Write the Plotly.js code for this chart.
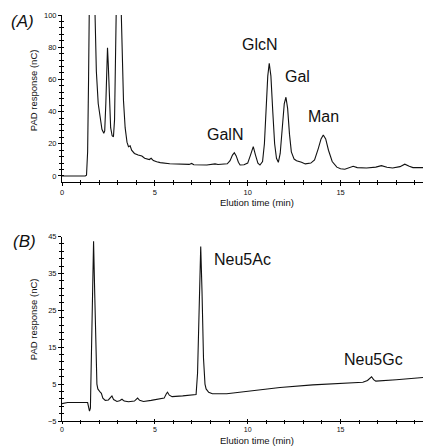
<!DOCTYPE html>
<html>
<head>
<meta charset="utf-8">
<script src="https://cdn.plot.ly/plotly-3.0.1.min.js"></script>
<style>
  html, body { margin: 0; padding: 0; background: #fff; }
  #chart { width: 423px; height: 447px; }
</style>
</head>
<body>
<div id="chart"></div>
<script>
// ---- Panel A: monosaccharide chromatogram ----
const timeA = [0, 1.25, 1.32, 1.38, 1.43, 1.47, 1.50, 1.60, 1.70, 1.78, 1.85, 1.95, 2.05, 2.15, 2.25, 2.30, 2.36, 2.42, 2.45, 2.49, 2.55, 2.62, 2.70, 2.77, 2.83, 2.90, 2.95, 3.05, 3.15, 3.20, 3.26, 3.31, 3.40, 3.50, 3.58, 3.67, 3.75, 3.90, 4.10, 4.30, 4.45, 4.57, 4.70, 4.80, 4.92, 5.10, 5.29, 5.80, 6.36, 6.85, 6.98, 7.10, 7.80, 8.10, 8.24, 8.40, 8.70, 8.90, 9.05, 9.18, 9.28, 9.38, 9.50, 9.59, 9.80, 10.00, 10.15, 10.30, 10.42, 10.55, 10.66, 10.80, 10.90, 11.00, 11.08, 11.16, 11.25, 11.35, 11.45, 11.55, 11.65, 11.75, 11.85, 11.97, 12.06, 12.15, 12.25, 12.35, 12.50, 12.63, 12.90, 13.10, 13.40, 13.60, 13.80, 13.95, 14.07, 14.20, 14.35, 14.55, 14.80, 15.00, 15.23, 15.45, 15.68, 15.90, 16.40, 16.90, 17.20, 17.50, 17.80, 18.20, 18.46, 18.70, 18.90, 19.44];
const respA = [0, 0, 0.5, 15, 60, 95, 130, 250, 180, 100, 65, 45, 35, 29, 26.5, 28, 45, 72, 79.7, 70, 45, 30, 25, 24.4, 35, 80, 130, 200, 120, 90, 60, 47, 30, 21, 18.2, 18.8, 16, 14, 13, 12.4, 11, 10.4, 10.2, 11, 9.6, 8.8, 8.3, 7.6, 7.3, 7.2, 7.8, 7.0, 6.8, 7.1, 7.5, 7.1, 7.3, 7.6, 9.5, 13, 14.5, 12.5, 8.5, 6.8, 7.0, 8, 13, 18.2, 13, 8, 6.8, 9, 20, 42, 62, 70, 62, 40, 20, 11, 8.5, 14, 30, 45, 48.9, 42, 26, 15, 10.5, 9.5, 8.5, 7.5, 8, 10, 17, 23, 25.5, 23, 16, 9, 5.5, 4.5, 4.2, 5, 6, 5.2, 5, 5.5, 6.4, 5.4, 5, 5.8, 7.3, 6, 5.2, 5.2];
const ticksA = [0, 20, 40, 60, 80, 100];
const labelsA = ["GalN", "GlcN", "Gal", "Man"];
const labelTimeA = [8.78, 10.66, 11.92, 14.07];
const labelRespA = [25.5, 81.4, 61.7, 36.8];

// ---- Panel B: sialic acid chromatogram ----
const timeB = [0, 0.3, 1.38, 1.42, 1.48, 1.53, 1.58, 1.64, 1.70, 1.76, 1.82, 1.88, 1.93, 2.00, 2.06, 2.12, 2.20, 2.33, 2.50, 2.62, 2.69, 2.78, 2.96, 3.10, 3.23, 3.35, 3.58, 3.90, 4.00, 4.07, 4.18, 4.39, 4.80, 5.29, 5.50, 5.62, 5.68, 5.78, 5.93, 6.50, 7.10, 7.22, 7.30, 7.38, 7.47, 7.54, 7.62, 7.70, 7.76, 7.90, 8.10, 8.87, 10.00, 11.74, 13.50, 15.50, 16.20, 16.45, 16.60, 16.67, 16.78, 16.90, 18.00, 19.44];
const respB = [-0.3, 0, 0, -1, -2.3, -1.5, 10, 30, 43.7, 30, 12, 5, 3.7, 3.0, 2.8, 2.5, 1.2, 0.6, 0.7, 1.4, 1.8, 0.8, 0.3, 0.5, 0.9, 0.4, 0.2, 0.4, 0.8, 1.2, 0.6, 0.3, 0.6, 0.9, 1.2, 2.4, 2.8, 2.0, 1.6, 1.8, 2.0, 2.2, 8, 28, 42.3, 30, 12, 5, 3.7, 2.8, 2.4, 2.4, 3.0, 4.1, 4.8, 5.4, 5.5, 6.0, 6.8, 7.0, 6.2, 5.8, 6.2, 6.8];
const ticksB = [-5, 5, 15, 25, 35, 45];
const labelsB = ["Neu5Ac", "Neu5Gc"];
const labelTimeB = [8.06, 15.06];
const labelRespB = [38.8, 11.7];

const ticksX = [0, 5, 10, 15];

const FONT = "Liberation Sans, Arial, Helvetica, sans-serif";
const INK = "#111";

const traces = [
  { x: timeA, y: respA, xaxis: "x", yaxis: "y", type: "scatter", mode: "lines",
    line: { color: INK, width: 1.1 }, hoverinfo: "skip" },
  { x: timeB, y: respB, xaxis: "x2", yaxis: "y2", type: "scatter", mode: "lines",
    line: { color: INK, width: 1.1 }, hoverinfo: "skip" },
  // helper traces so the overlay (inside-tick) axes get drawn
  { x: [-100], y: [-100], xaxis: "x3", yaxis: "y3", mode: "lines", hoverinfo: "skip" },
  { x: [-100], y: [-100], xaxis: "x4", yaxis: "y4", mode: "lines", hoverinfo: "skip" }
];

const XR = [0, 19.44];
const YRA = [-3.73, 100];
const YRB = [-5, 45];
const domA = [0.5887, 1];
const domB = [0, 0.4544];

function baseAxis(extra) {
  return Object.assign({
    showline: true, linecolor: "#000", linewidth: 1,
    showgrid: false, zeroline: false,
    ticks: "outside", ticklen: 3, tickwidth: 1, tickcolor: "#000",
    tickfont: { family: FONT, size: 7.5, color: INK },
    fixedrange: true
  }, extra);
}
function insideAxis(extra) {
  return Object.assign({
    showline: false, showgrid: false, zeroline: false,
    ticks: "inside", ticklen: 2, tickwidth: 1, tickcolor: "#000",
    showticklabels: false, fixedrange: true
  }, extra);
}

const annotations = [];
labelsA.forEach((t, i) => annotations.push({
  text: t, x: labelTimeA[i], y: labelRespA[i], xref: "x", yref: "y",
  xanchor: i === 2 ? "left" : "center", yanchor: "middle", showarrow: false,
  font: { family: FONT, size: 16, color: INK }
}));
labelsB.forEach((t, i) => annotations.push({
  text: t, x: labelTimeB[i], y: labelRespB[i], xref: "x2", yref: "y2",
  xanchor: "left", yanchor: "middle", showarrow: false,
  font: { family: FONT, size: 16, color: INK }
}));
// panel letters
annotations.push({ text: "<i>(A)</i>", xref: "paper", yref: "paper", x: -0.11, y: 0.984,
  xanchor: "center", yanchor: "middle", showarrow: false, font: { family: FONT, size: 17, color: INK } });
annotations.push({ text: "<i>(B)</i>", xref: "paper", yref: "paper", x: -0.105, y: 0.443,
  xanchor: "center", yanchor: "middle", showarrow: false, font: { family: FONT, size: 17, color: INK } });
// axis titles
annotations.push({ text: "PAD response (nC)", xref: "paper", yref: "paper", x: -0.08, y: 0.815,
  textangle: -90, xanchor: "center", yanchor: "middle", showarrow: false, font: { family: FONT, size: 9.5, color: INK } });
annotations.push({ text: "PAD response (nC)", xref: "paper", yref: "paper", x: -0.08, y: 0.251,
  textangle: -90, xanchor: "center", yanchor: "middle", showarrow: false, font: { family: FONT, size: 9.5, color: INK } });
annotations.push({ text: "Elution time (min)", xref: "paper", yref: "paper", x: 0.539, y: 0.5387,
  xanchor: "center", yanchor: "middle", showarrow: false, font: { family: FONT, size: 9.5, color: INK } });
annotations.push({ text: "Elution time (min)", xref: "paper", yref: "paper", x: 0.539, y: -0.064,
  xanchor: "center", yanchor: "bottom", borderpad: 0, showarrow: false, font: { family: FONT, size: 9.5, color: INK } });

const layout = {
  width: 423, height: 447,
  margin: { l: 62, r: 0, t: 15, b: 26 },
  paper_bgcolor: "#fff", plot_bgcolor: "#fff",
  showlegend: false,
  xaxis: baseAxis({ domain: [0, 1], range: XR, anchor: "y", tickvals: ticksX,
    minor: { tick0: 0, dtick: 1, ticks: "outside", ticklen: 2, tickcolor: "#000" } }),
  yaxis: baseAxis({ domain: domA, range: YRA, anchor: "x", tickvals: ticksA,
    minor: { tick0: 0, dtick: 4, ticks: "outside", ticklen: 2, tickcolor: "#000" } }),
  xaxis2: baseAxis({ domain: [0, 1], range: XR, anchor: "y2", tickvals: ticksX, ticklen: 2,
    tickfont: { family: FONT, size: 7, color: INK },
    minor: { tick0: 0, dtick: 1, ticks: "outside", ticklen: 2, tickcolor: "#000" } }),
  yaxis2: baseAxis({ domain: domB, range: YRB, anchor: "x2", tickvals: ticksB,
    minor: { tick0: -5, dtick: 2, ticks: "outside", ticklen: 2, tickcolor: "#000" } }),
  xaxis3: insideAxis({ overlaying: "x", anchor: "y", range: XR, tickvals: ticksX,
    minor: { tick0: 0, dtick: 1, ticks: "inside", ticklen: 1.5, tickcolor: "#000" } }),
  yaxis3: insideAxis({ overlaying: "y", anchor: "x", range: YRA, tickvals: ticksA,
    minor: { tick0: 0, dtick: 4, ticks: "inside", ticklen: 1.5, tickcolor: "#000" } }),
  xaxis4: insideAxis({ overlaying: "x2", anchor: "y2", range: XR, tickvals: ticksX,
    minor: { tick0: 0, dtick: 1, ticks: "inside", ticklen: 1.5, tickcolor: "#000" } }),
  yaxis4: insideAxis({ overlaying: "y2", anchor: "x2", range: YRB, tickvals: ticksB,
    minor: { tick0: -5, dtick: 2, ticks: "inside", ticklen: 1.5, tickcolor: "#000" } }),
  annotations: annotations
};

Plotly.newPlot("chart", traces, layout, { staticPlot: true, displayModeBar: false });
</script>
</body>
</html>
